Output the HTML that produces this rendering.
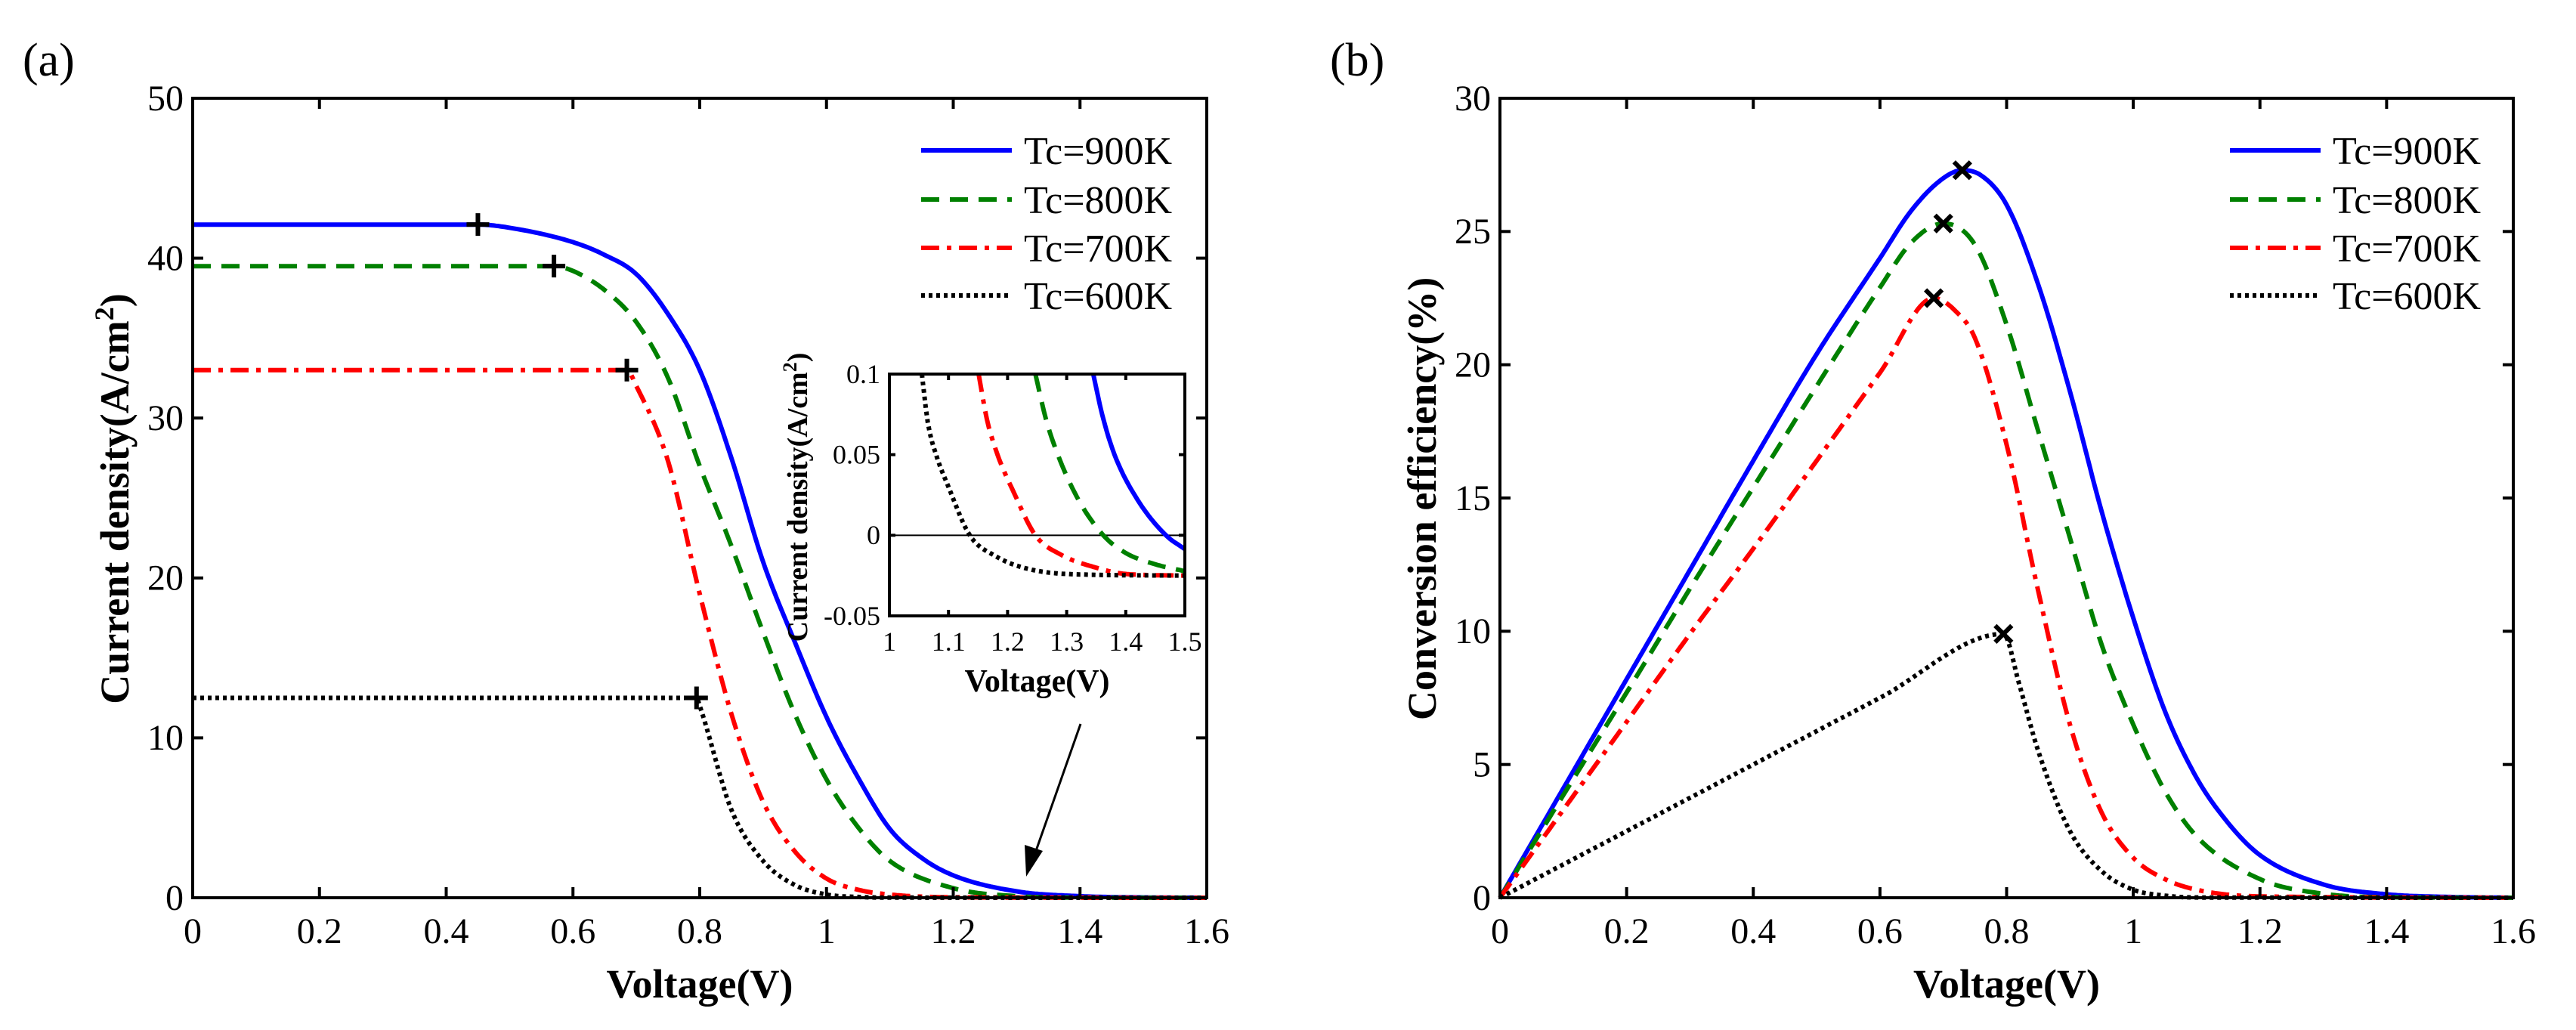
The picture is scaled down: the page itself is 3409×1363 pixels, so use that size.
<!DOCTYPE html>
<html><head><meta charset="utf-8"><style>
html,body{margin:0;padding:0;background:#fff;width:3409px;height:1363px;overflow:hidden}
svg text{font-family:"Liberation Serif",serif;fill:#000}
</style></head><body>
<svg id="fig" width="3409" height="1363" viewBox="0 0 3409 1363" xmlns="http://www.w3.org/2000/svg" font-family="Liberation Serif, serif"></svg>
<script>
// ---------- data ----------
const xTicks = [0,0.2,0.4,0.6,0.8,1,1.2,1.4,1.6];
const xTickLabels = ["0","0.2","0.4","0.6","0.8","1","1.2","1.4","1.6"];
const jTicks = [0,10,20,30,40,50];
const effTicks = [0,5,10,15,20,25,30];
const seriesNames = ["Tc=900K","Tc=800K","Tc=700K","Tc=600K"];

const jV900 = [0,0.45,0.5,0.6,0.65,0.7,0.75,0.8,0.85,0.9,0.95,1.0,1.05,1.1,1.15,1.2,1.3,1.4,1.5,1.6];
const jJ900 = [42.1,42.1,41.9,41.0,40.2,39.0,36.5,33.0,27.5,21.0,16.0,11.3,7.5,4.3,2.5,1.4,0.4,0.1,0.02,0];
const jV800 = [0,0.57,0.6,0.65,0.7,0.75,0.8,0.85,0.9,0.95,1.0,1.05,1.1,1.2,1.3,1.4,1.6];
const jJ800 = [39.5,39.5,39.2,38.0,36.0,32.5,27.0,22.0,16.6,11.5,7.4,4.4,2.3,0.6,0.1,0.01,0];
const jV700 = [0,0.685,0.7,0.75,0.8,0.85,0.9,0.95,1.0,1.05,1.1,1.2,1.6];
const jJ700 = [33.0,33.0,32.0,27.3,19.0,11.5,6.0,2.9,1.2,0.5,0.2,0.03,0];
const jV600 = [0,0.795,0.8,0.85,0.9,0.95,1.0,1.05,1.1,1.6];
const jJ600 = [12.5,12.5,12.0,5.5,2.3,0.8,0.2,0.05,0.01,0];
const mppV = [0.45,0.57,0.685,0.795];
const mppJ = [42.1,39.5,33.0,12.5];

const inV900 = [1.345,1.36,1.381,1.42,1.468,1.5];
const inJ900 = [0.1,0.075,0.05,0.022,0,-0.0086];
const inV800 = [1.247,1.265,1.285,1.32,1.362,1.4,1.45,1.5];
const inJ800 = [0.1,0.072,0.05,0.022,0,-0.011,-0.018,-0.0223];
const inV700 = [1.151,1.165,1.183,1.21,1.247,1.29,1.349,1.4,1.5];
const inJ700 = [0.1,0.072,0.05,0.027,0,-0.012,-0.02,-0.024,-0.025];
const inV600 = [1.055,1.065,1.079,1.1,1.136,1.18,1.226,1.3,1.5];
const inJ600 = [0.1,0.07,0.05,0.03,0,-0.013,-0.02,-0.024,-0.025];

const eV900 = [0,0.1,0.2,0.3,0.4,0.5,0.6,0.65,0.7,0.73,0.76,0.8,0.85,0.9,0.95,1.0,1.05,1.1,1.15,1.2,1.3,1.4,1.5,1.6];
const eE900 = [0,4.1,8.2,12.3,16.4,20.4,24.0,25.8,27.0,27.3,27.1,26.0,23.0,19.0,14.5,10.5,7.0,4.5,2.8,1.6,0.5,0.13,0.03,0];
const eV800 = [0,0.1,0.2,0.3,0.4,0.5,0.6,0.65,0.7,0.75,0.8,0.85,0.9,0.95,1.0,1.05,1.1,1.2,1.3,1.4,1.6];
const eE800 = [0,3.85,7.7,11.6,15.4,19.2,22.9,24.6,25.3,24.5,21.5,17.5,13.5,9.5,6.5,4.0,2.3,0.7,0.15,0.02,0];
const eV700 = [0,0.1,0.2,0.3,0.4,0.5,0.6,0.685,0.72,0.75,0.8,0.85,0.9,0.95,1.0,1.05,1.1,1.2,1.6];
const eE700 = [0,3.3,6.6,9.9,13.1,16.4,19.7,22.5,22.0,21.0,17.0,11.5,6.5,3.2,1.5,0.7,0.3,0.05,0];
const eV600 = [0,0.2,0.4,0.6,0.795,0.82,0.85,0.9,0.95,1.0,1.05,1.1,1.6];
const eE600 = [0,2.5,5.0,7.5,9.9,8.0,5.5,2.5,1.0,0.3,0.08,0.01,0];
const effMaxV = [0.73,0.70,0.685,0.795];
const effMaxE = [27.3,25.3,22.5,9.9];

// ---------- styles ----------
const colors = ["#0000ff","#008000","#ff0000","#000000"];
const dashes = ["none","24 14","24 10 6 10","5 5"];
const NS = "http://www.w3.org/2000/svg";
const svg = document.getElementById("fig");
function el(tag, attrs, parent){const e=document.createElementNS(NS,tag);for(const k in attrs)e.setAttribute(k,attrs[k]);(parent||svg).appendChild(e);return e;}
function txt(s, attrs, parent){const t=el("text",attrs,parent);t.textContent=s;return t;}
function makeScale(d0,d1,r0,r1){return v=>r0+(v-d0)/(d1-d0)*(r1-r0);}
// monotone cubic (Fritsch-Carlson) in data space, sampled densely
function monoPath(xs,ys,sx,sy){
  const n=xs.length, d=[], m=new Array(n).fill(0);
  for(let i=0;i<n-1;i++) d.push((ys[i+1]-ys[i])/(xs[i+1]-xs[i]));
  m[0]=d[0]; m[n-1]=d[n-2];
  for(let i=1;i<n-1;i++){ m[i]=(d[i-1]*d[i]<=0)?0:(d[i-1]+d[i])/2; }
  for(let i=0;i<n-1;i++){
    if(d[i]===0){m[i]=0;m[i+1]=0;continue;}
    const a=m[i]/d[i], b=m[i+1]/d[i], s=a*a+b*b;
    if(s>9){const t=3/Math.sqrt(s);m[i]=t*a*d[i];m[i+1]=t*b*d[i];}
  }
  let p="M"+sx(xs[0]).toFixed(1)+","+sy(ys[0]).toFixed(1);
  for(let i=0;i<n-1;i++){
    const h=xs[i+1]-xs[i], steps=Math.max(2,Math.ceil(Math.abs(sx(xs[i+1])-sx(xs[i]))/3));
    for(let k=1;k<=steps;k++){
      const t=k/steps,t2=t*t,t3=t2*t;
      const y=(2*t3-3*t2+1)*ys[i]+(t3-2*t2+t)*h*m[i]+(-2*t3+3*t2)*ys[i+1]+(t3-t2)*h*m[i+1];
      p+=" L"+sx(xs[i]+t*h).toFixed(1)+","+sy(y).toFixed(1);
    }
  }
  return p;
}
function axesBox(g,L,T,R,B,sx,sy,xt,xtl,yt,ytl,fs,tick,lblGap,name){
  el("rect",{x:L,y:T,width:R-L,height:B-T,fill:"none",stroke:"#000","stroke-width":4,},g);
  xt.forEach((v,i)=>{const x=sx(v);
    el("line",{x1:x,y1:B,x2:x,y2:B-tick,stroke:"#000","stroke-width":4},g);
    el("line",{x1:x,y1:T,x2:x,y2:T+tick,stroke:"#000","stroke-width":4},g);
    txt(xtl[i],{x:x,y:B+lblGap,"font-size":fs,"text-anchor":"middle",},g);});
  yt.forEach((v,i)=>{const y=sy(v);
    el("line",{x1:L,y1:y,x2:L+tick,y2:y,stroke:"#000","stroke-width":4},g);
    el("line",{x1:R,y1:y,x2:R-tick,y2:y,stroke:"#000","stroke-width":4},g);
    txt(ytl[i],{x:L-12,y:y+fs*0.33,"font-size":fs,"text-anchor":"end",},g);});
}
function drawLine(g,xs,ys,sx,sy,i,name,w){
  return el("path",{d:monoPath(xs,ys,sx,sy),fill:"none",stroke:colors[i],"stroke-width":w||6,"stroke-dasharray":dashes[i],},g);
}
function legend(g,x0,rows){
  seriesNames.forEach((n,i)=>{const y=rows[i];
    el("line",{x1:x0,y1:y,x2:x0+120,y2:y,stroke:colors[i],"stroke-width":6,"stroke-dasharray":dashes[i]},g);
    txt(n,{x:x0+136,y:y+18,"font-size":52,},g);});
}
const legRows=[199,264,328,391];

// ---------- panel (a) ----------
const gA=el("g",{});
const aL=255,aR=1597,aT=130,aB=1188;
const ax=makeScale(0,1.6,aL,aR), ay=makeScale(0,50,aB,aT);
txt("(a)",{x:30,y:100,"font-size":62,},gA);
const cA=[[jV900,jJ900],[jV800,jJ800],[jV700,jJ700],[jV600,jJ600]];
cA.forEach((c,i)=>drawLine(gA,c[0],c[1],ax,ay,i,"jv-line-"+seriesNames[i].slice(3)));
mppV.forEach((v,i)=>{const x=ax(v),y=ay(mppJ[i]);
  el("path",{d:`M${x-15},${y} H${x+15} M${x},${y-15} V${y+15}`,stroke:"#000","stroke-width":6,},gA);});
axesBox(gA,aL,aT,aR,aB,ax,ay,xTicks,xTickLabels,jTicks,jTicks.map(String),48,14,60,"panel-a");
txt("Voltage(V)",{x:(aL+aR)/2,y:1320,"font-size":54,"font-weight":"bold","text-anchor":"middle",},gA);
const yTA=txt("",{transform:"translate(170,660) rotate(-90)","font-size":54,"font-weight":"bold","text-anchor":"middle",},gA);
yTA.innerHTML='Current density(A/cm<tspan dy="-20" font-size="36">2</tspan><tspan dy="20">)</tspan>';
legend(gA,1219,legRows);
// arrow
el("line",{x1:1430,y1:958,x2:1366,y2:1140,stroke:"#000","stroke-width":3,},gA);
el("path",{d:"M1358,1160 L1356,1118 L1380,1126 Z",fill:"#000"},gA);
// inset
const gI=el("g",{},gA);
const iL=1177,iR=1568,iT=495,iB=815;
const ix=makeScale(1,1.5,iL,iR), iy=makeScale(-0.05,0.1,iB,iT);
el("rect",{x:iL,y:iT,width:iR-iL,height:iB-iT,fill:"#fff"},gI);
const cp=el("clipPath",{id:"ic"},gI);
el("rect",{x:iL,y:iT,width:iR-iL,height:iB-iT},cp);
el("line",{x1:iL,y1:iy(0),x2:iR,y2:iy(0),stroke:"#000","stroke-width":2,},gI);
const gIc=el("g",{"clip-path":"url(#ic)"},gI);
[[inV900,inJ900],[inV800,inJ800],[inV700,inJ700],[inV600,inJ600]].forEach((c,i)=>drawLine(gIc,c[0],c[1],ix,iy,i,"inset-line-"+seriesNames[i].slice(3),6));
axesBox(gI,iL,iT,iR,iB,ix,iy,[1,1.1,1.2,1.3,1.4,1.5],["1","1.1","1.2","1.3","1.4","1.5"],[-0.05,0,0.05,0.1],["-0.05","0","0.05","0.1"],36,8,46,"inset");
txt("Voltage(V)",{x:(iL+iR)/2,y:915,"font-size":42,"font-weight":"bold","text-anchor":"middle",},gI);
const yTI=txt("",{transform:"translate(1068,658) rotate(-90)","font-size":38,"font-weight":"bold","text-anchor":"middle",},gI);
yTI.innerHTML='Current density(A/cm<tspan dy="-14" font-size="26">2</tspan><tspan dy="14">)</tspan>';

// ---------- panel (b) ----------
const gB=el("g",{});
const bL=1985,bR=3326,bT=130,bB=1188;
const bx=makeScale(0,1.6,bL,bR), by=makeScale(0,30,bB,bT);
txt("(b)",{x:1760,y:100,"font-size":62,},gB);
const cB=[[eV900,eE900],[eV800,eE800],[eV700,eE700],[eV600,eE600]];
cB.forEach((c,i)=>drawLine(gB,c[0],c[1],bx,by,i,"efficiency-line-"+seriesNames[i].slice(3)));
effMaxV.forEach((v,i)=>{const x=bx(v),y=by(effMaxE[i]);
  el("path",{d:`M${x-11},${y-11} L${x+11},${y+11} M${x-11},${y+11} L${x+11},${y-11}`,stroke:"#000","stroke-width":6,},gB);});
axesBox(gB,bL,bT,bR,bB,bx,by,xTicks,xTickLabels,effTicks,effTicks.map(String),48,14,60,"panel-b");
txt("Voltage(V)",{x:(bL+bR)/2,y:1320,"font-size":54,"font-weight":"bold","text-anchor":"middle",},gB);
txt("Conversion efficiency(%)",{transform:"translate(1900,660) rotate(-90)","font-size":54,"font-weight":"bold","text-anchor":"middle",},gB);
legend(gB,2951,legRows);
</script>
</body></html>
